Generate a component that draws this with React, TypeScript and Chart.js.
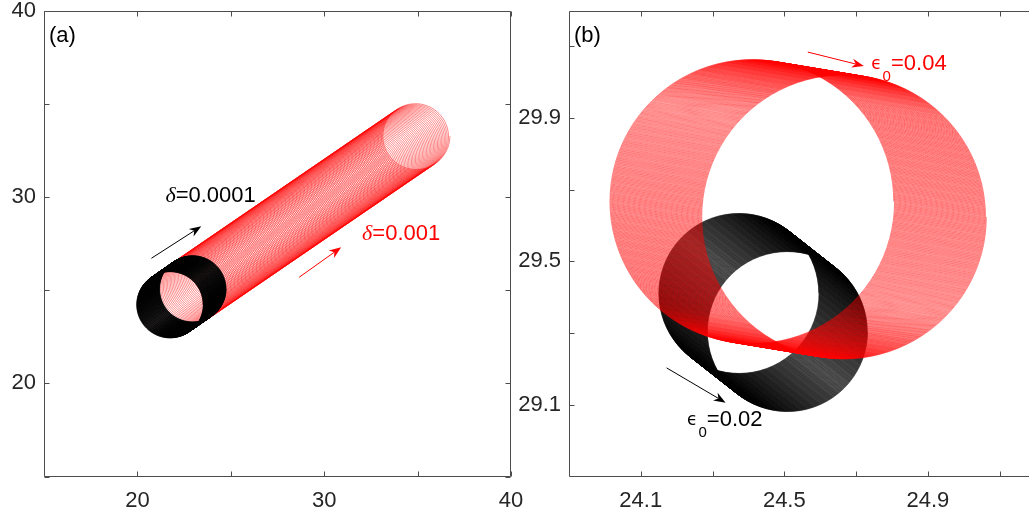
import React, { useEffect, useRef } from 'react';
import { Chart, registerables } from 'chart.js';

Chart.register(...registerables);

// ---------------- Panel (a) ----------------
const A_X_RANGE = [15, 40];
const A_Y_RANGE = [15, 40];
const A_X_TICKS = [15, 20, 25, 30, 35, 40];
const A_Y_TICKS = [15, 20, 25, 30, 35, 40];
const A_X_LABELED = [20, 30, 40];
const A_Y_LABELED = [20, 30, 40];

// gyration orbits: first / last guiding centre, radius, number of turns
const A_BLACK_FIRST = [21.74, 24.22];
const A_BLACK_LAST = [22.97, 25.08];
const A_RED_FIRST = [21.74, 24.22];
const A_RED_LAST = [34.95, 33.28];
const A_RADII = [1.78, 1.78]; // black, red
const A_TURNS = [160, 180]; // black, red

const A_NOTES = [
  { greek: 'δ', sub: '', rest: '=0.0001', x: 21.5, y: 29.73, color: '#000000' },
  { greek: 'δ', sub: '', rest: '=0.001', x: 32.03, y: 27.69, color: '#ff0000' },
];
const A_ARROWS = [
  { from: [20.75, 26.72], to: [23.42, 28.44], color: '#000000' },
  { from: [28.66, 25.7], to: [30.91, 27.31], color: '#ff0000' },
];

// ---------------- Panel (b) ----------------
const B_X_RANGE = [23.9, 25.2];
const B_Y_RANGE = [28.9, 30.2];
const B_X_TICKS = [24.1, 24.3, 24.5, 24.7, 24.9, 25.1];
const B_Y_TICKS = [29.1, 29.3, 29.5, 29.7, 29.9, 30.1];
const B_X_LABELED = [24.1, 24.5, 24.9];
const B_Y_LABELED = [29.1, 29.5, 29.9];

const B_RED_FIRST = [24.409, 29.667];
const B_RED_LAST = [24.667, 29.624];
const B_BLACK_FIRST = [24.373, 29.411];
const B_BLACK_LAST = [24.509, 29.304];
const B_RADII = [0.396, 0.223]; // red, black
const B_TURNS = [110, 180]; // red, black

const B_NOTES = [
  { greek: 'ϵ', sub: '0', rest: '=0.04', x: 24.742, y: 30.033, color: '#ff0000' },
  { greek: 'ϵ', sub: '0', rest: '=0.02', x: 24.229, y: 29.042, color: '#000000' },
];
const B_ARROWS = [
  { from: [24.5655, 30.084], to: [24.7216, 30.045], color: '#ff0000' },
  { from: [24.172, 29.203], to: [24.3365, 29.106], color: '#000000' },
];

// ---------------- styling ----------------
const FONT = "'Liberation Sans', Arial, Helvetica, sans-serif";
const AXIS_COLOR = '#4d4d4d';
const LABEL_COLOR = '#262626';
const FONT_SIZE = 22;
const CANVAS_W = 540;
const CANVAS_H = 518;

function orbit(first: number[], last: number[], radius: number, turns: number, perTurn: number) {
  const pts: { x: number; y: number }[] = [];
  const n = turns * perTurn;
  for (let k = 0; k <= n; k++) {
    const f = k / n;
    const th = (2 * Math.PI * k) / perTurn;
    pts.push({
      x: first[0] + (last[0] - first[0]) * f + radius * Math.cos(th),
      y: first[1] + (last[1] - first[1]) * f + radius * Math.sin(th),
    });
  }
  return pts;
}

function axisOpts(range: number[], ticks: number[], labeled: number[], isX: boolean, size: number, pad: number) {
  return {
    type: 'linear',
    min: range[0],
    max: range[1],
    afterBuildTicks: (s: any) => {
      s.ticks = ticks.map((v) => ({ value: v }));
    },
    afterFit: (s: any) => {
      if (isX) s.height = size;
      else s.width = size;
      s.paddingTop = 0;
      s.paddingBottom = 0;
      s.paddingLeft = 0;
      s.paddingRight = 0;
    },
    grid: { display: false, drawTicks: false },
    border: { display: false },
    ticks: {
      autoSkip: false,
      maxRotation: 0,
      padding: pad,
      color: LABEL_COLOR,
      font: { family: FONT, size: FONT_SIZE },
      callback: (v: number) => (labeled.includes(v) ? String(v) : ''),
    },
  };
}

function framePlugin(xTicks: number[], yTicks: number[], tag: string) {
  return {
    id: 'frame',
    afterDatasetsDraw(chart: any) {
      const { ctx, chartArea } = chart;
      const xs = chart.scales.x;
      const ys = chart.scales.y;
      const L = Math.round(chartArea.left) + 0.5;
      const R = Math.round(chartArea.right) - 0.5;
      const T = Math.round(chartArea.top) + 0.5;
      const B = Math.round(chartArea.bottom) - 0.5;
      ctx.save();
      ctx.strokeStyle = AXIS_COLOR;
      ctx.lineWidth = 1;
      ctx.beginPath();
      ctx.rect(L, T, R - L, B - T);
      const tl = 5;
      xTicks.forEach((v) => {
        const px = Math.round(xs.getPixelForValue(v)) + 0.5;
        ctx.moveTo(px, B);
        ctx.lineTo(px, B - tl);
        ctx.moveTo(px, T);
        ctx.lineTo(px, T + tl);
      });
      yTicks.forEach((v) => {
        const py = Math.round(ys.getPixelForValue(v)) + 0.5;
        ctx.moveTo(L, py);
        ctx.lineTo(L + tl, py);
        ctx.moveTo(R, py);
        ctx.lineTo(R - tl, py);
      });
      ctx.stroke();
      ctx.fillStyle = '#000000';
      ctx.font = `${FONT_SIZE}px ${FONT}`;
      ctx.textAlign = 'left';
      ctx.textBaseline = 'alphabetic';
      ctx.fillText(tag, chartArea.left + 5, chartArea.top + 31);
      ctx.restore();
    },
  };
}

function notesPlugin(notes: any[], arrows: any[]) {
  return {
    id: 'notes',
    afterDatasetsDraw(chart: any) {
      const { ctx } = chart;
      const xs = chart.scales.x;
      const ys = chart.scales.y;
      ctx.save();
      arrows.forEach((a) => {
        const x0 = xs.getPixelForValue(a.from[0]);
        const y0 = ys.getPixelForValue(a.from[1]);
        const x1 = xs.getPixelForValue(a.to[0]);
        const y1 = ys.getPixelForValue(a.to[1]);
        const len = Math.hypot(x1 - x0, y1 - y0);
        const ux = (x1 - x0) / len;
        const uy = (y1 - y0) / len;
        const nx = -uy;
        const ny = ux;
        const hl = 12;
        const hw = 4.5;
        ctx.strokeStyle = a.color;
        ctx.fillStyle = a.color;
        ctx.lineWidth = 1;
        ctx.beginPath();
        ctx.moveTo(x0, y0);
        ctx.lineTo(x1 - ux * hl * 0.7, y1 - uy * hl * 0.7);
        ctx.stroke();
        ctx.beginPath();
        ctx.moveTo(x1, y1);
        ctx.lineTo(x1 - ux * hl + nx * hw, y1 - uy * hl + ny * hw);
        ctx.lineTo(x1 - ux * hl * 0.7, y1 - uy * hl * 0.7);
        ctx.lineTo(x1 - ux * hl - nx * hw, y1 - uy * hl - ny * hw);
        ctx.closePath();
        ctx.fill();
      });
      notes.forEach((n) => {
        let x = xs.getPixelForValue(n.x);
        const y = ys.getPixelForValue(n.y);
        ctx.fillStyle = n.color;
        ctx.textAlign = 'left';
        ctx.textBaseline = 'alphabetic';
        if (n.greek === 'δ') {
          ctx.font = `italic ${FONT_SIZE}px 'Liberation Serif', 'DejaVu Serif', serif`;
          ctx.fillText(n.greek, x, y);
        } else {
          ctx.font = `17px 'DejaVu Sans', sans-serif`;
          ctx.fillText(n.greek, x, y - 1);
        }
        x += ctx.measureText(n.greek).width;
        if (n.sub) {
          ctx.font = `15px ${FONT}`;
          ctx.fillText(n.sub, x + 1, y + 11);
          x += ctx.measureText(n.sub).width + 1;
        }
        ctx.font = `${FONT_SIZE}px ${FONT}`;
        ctx.fillText(n.rest, x, y);
      });
      ctx.restore();
    },
  };
}

function makeConfig(p: any) {
  return {
    type: 'scatter',
    data: {
      datasets: p.series.map((s: any) => ({
        data: s.points,
        showLine: true,
        pointRadius: 0,
        pointHoverRadius: 0,
        borderColor: s.color,
        backgroundColor: s.color,
        borderWidth: s.width,
        tension: 0.0001,
        fill: false,
      })),
    },
    options: {
      animation: false,
      responsive: false,
      devicePixelRatio: 1,
      events: [],
      layout: { padding: { top: p.padTop, right: p.padRight, left: 0, bottom: 0 } },
      plugins: { legend: { display: false }, tooltip: { enabled: false } },
      scales: {
        x: axisOpts(p.xRange, p.xTicks, p.xLabeled, true, p.xAxisH, 11),
        y: axisOpts(p.yRange, p.yTicks, p.yLabeled, false, p.yAxisW, 8),
      },
    },
    plugins: [framePlugin(p.xTicks, p.yTicks, p.tag), notesPlugin(p.notes, p.arrows)],
  };
}

function Panel({ build, left }: { build: () => any; left: number }) {
  const ref = useRef<HTMLCanvasElement | null>(null);
  useEffect(() => {
    if (!ref.current) return;
    const chart = new Chart(ref.current, build());
    return () => chart.destroy();
  }, []);
  return (
    <canvas
      ref={ref}
      width={CANVAS_W}
      height={CANVAS_H}
      style={{ position: 'absolute', left, top: 0, width: CANVAS_W, height: CANVAS_H }}
    />
  );
}

const buildA = () =>
  makeConfig({
    tag: '(a)',
    xRange: A_X_RANGE,
    yRange: A_Y_RANGE,
    xTicks: A_X_TICKS,
    yTicks: A_Y_TICKS,
    xLabeled: A_X_LABELED,
    yLabeled: A_Y_LABELED,
    padTop: 11,
    padRight: CANVAS_W - 511,
    xAxisH: CANVAS_H - 476.5,
    yAxisW: 44,
    notes: A_NOTES,
    arrows: A_ARROWS,
    series: [
      { points: orbit(A_BLACK_FIRST, A_BLACK_LAST, A_RADII[0], A_TURNS[0], 72), color: '#000000', width: 0.5 },
      { points: orbit(A_RED_FIRST, A_RED_LAST, A_RADII[1], A_TURNS[1], 72), color: '#ff0000', width: 0.5 },
    ],
  });

const B_LEFT = 505;
const buildB = () =>
  makeConfig({
    tag: '(b)',
    xRange: B_X_RANGE,
    yRange: B_Y_RANGE,
    xTicks: B_X_TICKS,
    yTicks: B_Y_TICKS,
    xLabeled: B_X_LABELED,
    yLabeled: B_Y_LABELED,
    padTop: 10.5,
    padRight: CANVAS_W - (1035.5 - B_LEFT),
    xAxisH: CANVAS_H - 476.5,
    yAxisW: 569 - B_LEFT,
    notes: B_NOTES,
    arrows: B_ARROWS,
    series: [
      { points: orbit(B_RED_FIRST, B_RED_LAST, B_RADII[0], B_TURNS[0], 96), color: '#ff0000', width: 0.5 },
      { points: orbit(B_BLACK_FIRST, B_BLACK_LAST, B_RADII[1], B_TURNS[1], 72), color: '#000000', width: 0.5 },
    ],
  });

export default function App() {
  return (
    <div
      style={{
        position: 'fixed',
        left: 0,
        top: 0,
        width: 1029,
        height: 518,
        overflow: 'hidden',
        background: '#ffffff',
      }}
    >
      <Panel build={buildA} left={0} />
      <Panel build={buildB} left={B_LEFT} />
    </div>
  );
}
